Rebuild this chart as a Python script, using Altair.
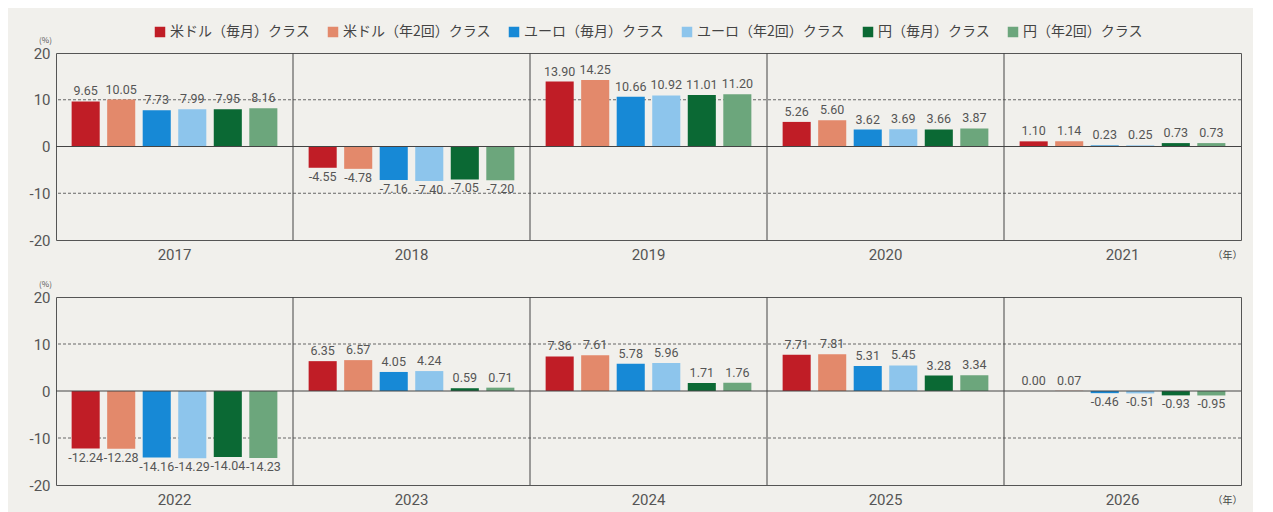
import altair as alt
import pandas as pd

series = ["米ドル（毎月）クラス", "米ドル（年2回）クラス", "ユーロ（毎月）クラス",
          "ユーロ（年2回）クラス", "円（毎月）クラス", "円（年2回）クラス"]
colors = ["#c01d26", "#e3896b", "#1789d6", "#8dc5ec", "#0b6934", "#6ca67c"]
years_top = ["2017", "2018", "2019", "2020", "2021"]
years_bottom = ["2022", "2023", "2024", "2025", "2026"]
years = years_top + years_bottom
usd_monthly = [9.65, -4.55, 13.90, 5.26, 1.10, -12.24, 6.35, 7.36, 7.71, 0.00]
usd_semi = [10.05, -4.78, 14.25, 5.60, 1.14, -12.28, 6.57, 7.61, 7.81, 0.07]
eur_monthly = [7.73, -7.16, 10.66, 3.62, 0.23, -14.16, 4.05, 5.78, 5.31, -0.46]
eur_semi = [7.99, -7.40, 10.92, 3.69, 0.25, -14.29, 4.24, 5.96, 5.45, -0.51]
jpy_monthly = [7.95, -7.05, 11.01, 3.66, 0.73, -14.04, 0.59, 1.71, 3.28, -0.93]
jpy_semi = [8.16, -7.20, 11.20, 3.87, 0.73, -14.23, 0.71, 1.76, 3.34, -0.95]
y_ticks = [-20, -10, 0, 10, 20]

all_vals = [usd_monthly, usd_semi, eur_monthly, eur_semi, jpy_monthly, jpy_semi]
rows = []
for s, vals in zip(series, all_vals):
    for yr, v in zip(years, vals):
        rows.append({"year": yr, "series": s, "value": v})
df = pd.DataFrame(rows)

JP = "Noto Sans CJK JP"
NUM = "Liberation Sans Narrow, Roboto"
W, H = 1185, 187


def make_row(yrs, show_legend, h):
    d = df[df["year"].isin(yrs)]
    xscale = alt.Scale(domain=yrs, paddingInner=0, paddingOuter=0)
    yscale = alt.Scale(domain=[-20, 20], nice=False)
    xaxis = alt.Axis(title="（年）", titleFont=JP, titleFontSize=10, titleColor="#444",
                     titleFontWeight="normal", titleAngle=0, titleX=W - 14, titleY=15,
                     titleBaseline="middle", titleAlign="center",
                     labelAngle=0, labelFont="Roboto", labelFontSize=15, labelColor="#555",
                     labelPadding=7, ticks=False, domain=False, grid=False)
    yaxis = alt.Axis(values=y_ticks, grid=False, ticks=False, domain=False,
                     labelFont="Roboto", labelFontSize=15, labelColor="#555", labelPadding=6,
                     labelExpr="replace(datum.label, '\u2212', '-')",
                     title="(%)", titleFont=JP, titleFontSize=8, titleColor="#555",
                     titleFontWeight="normal", titleAngle=0, titleX=-11, titleY=-13,
                     titleAlign="center", titleBaseline="middle",
                     minExtent=40, maxExtent=40)
    xoff = alt.XOffset("series:N", sort=series,
                       scale=alt.Scale(domain=series, paddingInner=0.21, paddingOuter=0.44))
    legend = alt.Legend(orient="none", legendX=97, legendY=-28, direction="horizontal", title=None,
                        symbolType="square", symbolSize=110, symbolStrokeWidth=0,
                        labelFont=JP, labelFontSize=14, labelColor="#444",
                        columnPadding=16, labelOffset=3) if show_legend else None
    xs = alt.X("year:N", scale=xscale, axis=xaxis)
    ys = alt.Y("value:Q", scale=yscale, axis=yaxis)
    bars = alt.Chart(d).mark_bar().encode(
        x=xs, xOffset=xoff, y=ys,
        color=alt.Color("series:N", sort=series, scale=alt.Scale(domain=series, range=colors),
                        legend=legend),
    )
    lab = "replace(format(datum.value, '.2f'), '\u2212', '-')"
    pos = alt.Chart(d).transform_filter("datum.value >= 0").transform_calculate(lab=lab).mark_text(
        baseline="bottom", dy=-3, font=NUM, fontSize=12.5, color="#555"
    ).encode(x=xs, xOffset=xoff, y=ys, text="lab:N")
    neg = alt.Chart(d).transform_filter("datum.value < 0").transform_calculate(lab=lab).mark_text(
        baseline="top", dy=3, font=NUM, fontSize=12.5, color="#555"
    ).encode(x=xs, xOffset=xoff, y=ys, text="lab:N")
    sep = alt.Chart(pd.DataFrame({"year": yrs[1:]})).mark_rule(color="#444", strokeWidth=1).encode(
        x=alt.X("year:N", scale=xscale, axis=xaxis, bandPosition=0))
    grid_df = pd.DataFrame({"value": [t for t in y_ticks if t not in (0, -20, 20)]})
    grid = alt.Chart(grid_df).mark_rule(color="#666", strokeDash=[3, 2], strokeWidth=1).encode(y=ys)
    zero = alt.Chart(pd.DataFrame({"value": [0]})).mark_rule(color="#444", strokeWidth=1).encode(y=ys)
    return alt.layer(grid, bars, zero, sep, pos, neg).properties(width=W, height=h)


chart = alt.vconcat(make_row(years_top, True, 187), make_row(years_bottom, False, 188),
                    spacing=16).properties(
    padding={"left": 7, "top": 17, "right": 10, "bottom": 4}
).configure(background="#f1f0ec").configure_view(stroke="#555", strokeWidth=1)

chart.save("out.html", embed_options={"renderer": "svg", "actions": False})
